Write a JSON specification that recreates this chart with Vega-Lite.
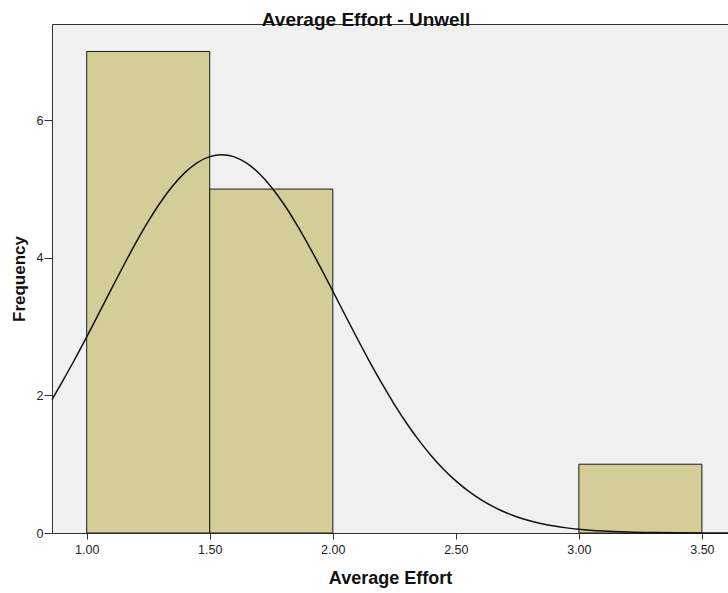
{
  "$schema": "https://vega.github.io/schema/vega-lite/v6.json",
  "autosize": "none",
  "width": 676,
  "height": 509,
  "padding": {"left": 52, "top": 24, "right": 0, "bottom": 60},
  "background": "#ffffff",
  "title": {
    "text": "Average Effort - Unwell",
    "font": "Liberation Sans",
    "fontSize": 19,
    "fontWeight": "bold",
    "color": "#111111",
    "anchor": "middle",
    "baseline": "alphabetic",
    "offset": 0,
    "dx": -24,
    "dy": 21
  },
  "datasets": {
    "bins": [
      {"bin_start": 1.0, "bin_end": 1.5, "count": 7},
      {"bin_start": 1.5, "bin_end": 2.0, "count": 5},
      {"bin_start": 3.0, "bin_end": 3.5, "count": 1}
    ],
    "normal": [
      {"x": 0.859, "y": 1.94},
      {"x": 0.9, "y": 2.195},
      {"x": 0.95, "y": 2.515},
      {"x": 1.0, "y": 2.851},
      {"x": 1.05, "y": 3.197},
      {"x": 1.1, "y": 3.545},
      {"x": 1.15, "y": 3.889},
      {"x": 1.2, "y": 4.22},
      {"x": 1.25, "y": 4.529},
      {"x": 1.3, "y": 4.808},
      {"x": 1.35, "y": 5.048},
      {"x": 1.4, "y": 5.243},
      {"x": 1.45, "y": 5.386},
      {"x": 1.5, "y": 5.472},
      {"x": 1.548, "y": 5.5},
      {"x": 1.6, "y": 5.468},
      {"x": 1.65, "y": 5.376},
      {"x": 1.7, "y": 5.229},
      {"x": 1.75, "y": 5.03},
      {"x": 1.8, "y": 4.787},
      {"x": 1.85, "y": 4.505},
      {"x": 1.9, "y": 4.194},
      {"x": 1.95, "y": 3.862},
      {"x": 2.0, "y": 3.517},
      {"x": 2.05, "y": 3.169},
      {"x": 2.1, "y": 2.824},
      {"x": 2.15, "y": 2.489},
      {"x": 2.2, "y": 2.17},
      {"x": 2.25, "y": 1.871},
      {"x": 2.3, "y": 1.595},
      {"x": 2.35, "y": 1.346},
      {"x": 2.4, "y": 1.124},
      {"x": 2.45, "y": 0.927},
      {"x": 2.5, "y": 0.757},
      {"x": 2.55, "y": 0.611},
      {"x": 2.6, "y": 0.488},
      {"x": 2.65, "y": 0.386},
      {"x": 2.7, "y": 0.301},
      {"x": 2.75, "y": 0.233},
      {"x": 2.8, "y": 0.178},
      {"x": 2.85, "y": 0.135},
      {"x": 2.9, "y": 0.101},
      {"x": 2.95, "y": 0.0745},
      {"x": 3.0, "y": 0.0546},
      {"x": 3.1, "y": 0.0283},
      {"x": 3.2, "y": 0.014},
      {"x": 3.3, "y": 0.0067},
      {"x": 3.4, "y": 0.003},
      {"x": 3.5, "y": 0.0013},
      {"x": 3.606, "y": 0.0005}
    ]
  },
  "layer": [
    {
      "data": {"name": "bins"},
      "mark": {"type": "rect", "fill": "#d3ce97", "stroke": "#1a1a1a", "strokeWidth": 1},
      "encoding": {
        "x": {
          "field": "bin_start",
          "type": "quantitative",
          "scale": {"domain": [0.859, 3.606], "nice": false, "zero": false},
          "axis": {
            "orient": "bottom",
            "values": [1, 1.5, 2, 2.5, 3, 3.5],
            "format": ".2f",
            "tickSize": 6,
            "labelPadding": 4,
            "title": "Average Effort",
            "titleFontSize": 18,
            "titlePadding": 14
          }
        },
        "x2": {"field": "bin_end"},
        "y": {
          "field": "count",
          "type": "quantitative",
          "scale": {"domain": [0, 7.4], "nice": false},
          "axis": {
            "values": [0, 2, 4, 6],
            "format": "d",
            "tickSize": 8,
            "labelPadding": 1,
            "title": "Frequency",
            "titleFontSize": 17,
            "titlePadding": 8
          }
        },
        "y2": {"datum": 0}
      }
    },
    {
      "data": {"name": "normal"},
      "mark": {"type": "line", "color": "#111111", "strokeWidth": 1.5, "interpolate": "monotone"},
      "encoding": {
        "x": {
          "field": "x",
          "type": "quantitative",
          "axis": {"orient": "top", "labels": false, "ticks": false, "title": null}
        },
        "y": {"field": "y", "type": "quantitative"}
      }
    }
  ],
  "resolve": {"axis": {"x": "independent"}},
  "config": {
    "view": {"fill": "#f0f0f0", "stroke": null},
    "axis": {
      "grid": false,
      "domainColor": "#333333",
      "domainWidth": 1,
      "tickColor": "#333333",
      "labelFont": "Liberation Sans",
      "labelFontSize": 12.5,
      "labelColor": "#222222",
      "titleFont": "Liberation Sans",
      "titleFontWeight": "bold",
      "titleColor": "#111111"
    }
  }
}
